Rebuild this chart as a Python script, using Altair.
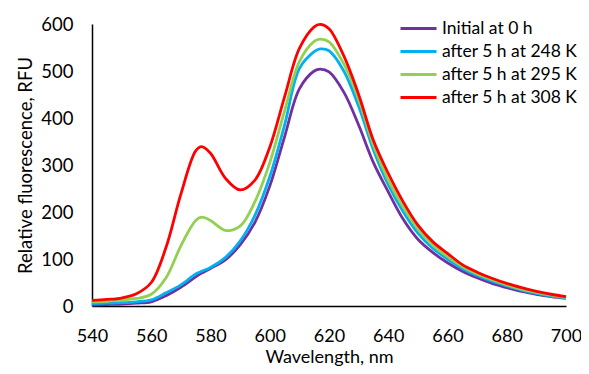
import altair as alt
import pandas as pd

wavelength = [540, 545, 550, 555, 560, 565, 570, 575, 577, 580, 585, 590, 595, 600, 605, 610, 615, 617,
              620, 625, 630, 635, 640, 645, 650, 655, 660, 665, 670, 675, 680, 685, 690, 695, 700]

initial_0h = [2, 3, 4, 6, 9, 22, 40, 62, 70, 80, 98, 130, 178, 255, 360, 462, 500, 504,
              498, 455, 385, 305, 243, 185, 142, 114, 92, 74, 60, 48, 39, 31, 25, 20, 16]
k248 = [5, 6, 7, 9, 13, 28, 45, 68, 74, 82, 103, 138, 193, 275, 385, 505, 541, 547,
        543, 500, 425, 332, 258, 201, 155, 123, 100, 80, 65, 53, 43, 34, 27, 21, 17]
k295 = [9, 10, 13, 16, 25, 60, 128, 182, 189, 182, 161, 170, 222, 305, 415, 520, 563, 568,
        562, 515, 440, 342, 268, 211, 164, 130, 105, 84, 68, 56, 45, 36, 29, 23, 18]
k308 = [12, 14, 17, 26, 50, 125, 238, 330, 339, 325, 272, 247, 268, 338, 445, 548, 594, 599,
        590, 532, 450, 352, 282, 222, 172, 137, 112, 88, 72, 59, 48, 39, 31, 25, 20]

series_names = ["Initial at 0 h", "after 5 h at 248 K", "after 5 h at 295 K", "after 5 h at 308 K"]
series_values = [initial_0h, k248, k295, k308]
colors = ["#7030A0", "#00B0F0", "#92D050", "#FF0000"]
x_ticks = [540, 560, 580, 600, 620, 640, 660, 680, 700]
y_ticks = [0, 100, 200, 300, 400, 500, 600]

rows = []
for i, (name, vals) in enumerate(zip(series_names, series_values)):
    for w, v in zip(wavelength, vals):
        rows.append({"Wavelength": w, "RFU": v, "Series": name, "order": i})
df = pd.DataFrame(rows)

FONT = "Lato"

chart = alt.Chart(df).mark_line(strokeWidth=2.8, interpolate="catmull-rom").encode(
    x=alt.X("Wavelength:Q",
            scale=alt.Scale(domain=[540, 700], nice=False, zero=False),
            axis=alt.Axis(title="Wavelength, nm", values=x_ticks, ticks=False, grid=False,
                          labelFlush=False, labelPadding=21, titlePadding=3, format="d",
                          labelFontSize=18, titleFontSize=18)),
    y=alt.Y("RFU:Q",
            scale=alt.Scale(domain=[0, 600], nice=False),
            axis=alt.Axis(title="Relative fluorescence, RFU", values=y_ticks, ticks=False, grid=False,
                          labelFlush=False, labelPadding=19, titlePadding=5,
                          labelFontSize=18.5, titleFontSize=18.5)),
    color=alt.Color("Series:N",
                    scale=alt.Scale(domain=series_names, range=colors),
                    legend=alt.Legend(title=None, orient="none", legendX=307, legendY=-7,
                                      symbolType="stroke", symbolSize=1296, symbolStrokeWidth=3,
                                      clipHeight=23, rowPadding=0,
                                      labelFontSize=17.5, labelFont=FONT, labelColor="#000000",
                                      labelOffset=4, labelLimit=300)),
    order=alt.Order("order:Q"),
).properties(
    width=474, height=282,
    autosize=alt.AutoSizeParams(type="none"),
    padding={"left": 84, "top": 16, "right": 15, "bottom": 60},
).configure_view(stroke=None).configure_axis(
    domainColor="#000000", domainWidth=1.5,
    labelFont=FONT, labelColor="#000000",
    titleFont=FONT, titleFontWeight="normal", titleColor="#000000",
)

chart.save("out.html", embed_options={"renderer": "svg", "actions": False})
